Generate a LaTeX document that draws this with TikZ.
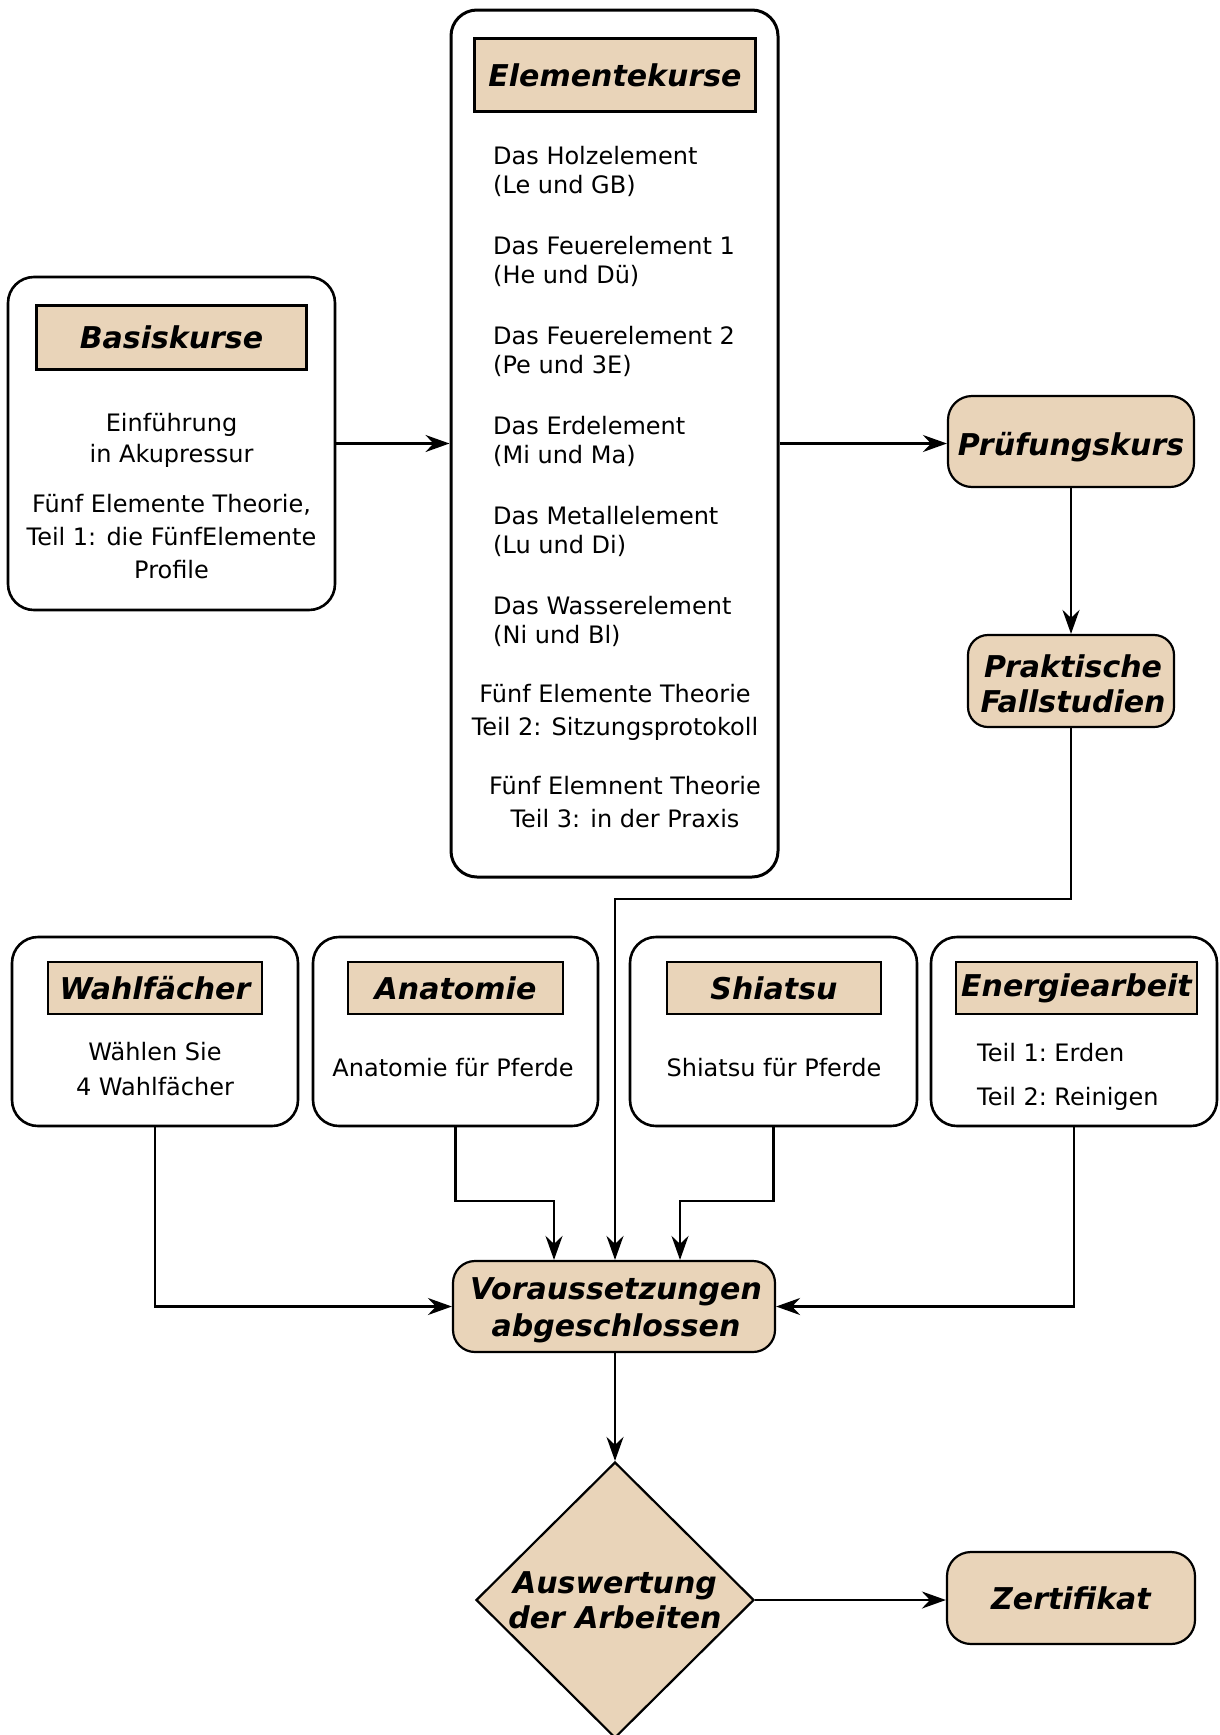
\documentclass[tikz,border=0pt]{standalone}
\usepackage{fontspec}
\setmainfont{DejaVu Sans}
\usetikzlibrary{arrows.meta,shapes.geometric,calc}
\definecolor{tanfill}{RGB}{233,212,185}
\newcommand{\bodyfnt}{\fontsize{24}{29}\selectfont}
\newcommand{\hdrfnt}{\fontsize{30}{35}\selectfont\bfseries\itshape}
\tikzset{
  outerbox/.style={draw, rounded corners=26pt, line width=2.6pt, inner sep=0pt, fill=white},
  hdrbox/.style={draw, fill=tanfill, line width=2.2pt, inner sep=0pt, font=\hdrfnt},
  tanbox/.style={draw, fill=tanfill, rounded corners=24pt, line width=2.2pt, inner sep=0pt, font=\hdrfnt, align=center},
  txt/.style={inner sep=0pt, font=\bodyfnt},
  conn/.style={line width=2.4pt, -{Stealth[length=24pt,width=17pt,inset=8pt]}}
}
\begin{document}
\begin{tikzpicture}[x=1pt,y=-1pt]
\useasboundingbox (0,0) rectangle (1219,1735);
\fill[white] (0,0) rectangle (1219,1735);

% Basiskurse
\node[outerbox, minimum width=327pt, minimum height=333pt] (basis) at (171.5,443.5) {};
\node[hdrbox, minimum width=270pt, minimum height=64pt] (basisH) at (171.5,337.5) {Basiskurse};
\node[txt, align=center, font=\fontsize{24}{31}\selectfont] (basisT1) at (171.5,440) {Einführung\\in Akupressur};
\node[txt, align=center, font=\fontsize{24}{33}\selectfont] (basisT2) at (171.5,537) {Fünf Elemente Theorie,\\Teil 1: die FünfElemente\\Profile};

% Elementekurse
\node[outerbox, line width=3pt, minimum width=327pt, minimum height=867pt] (elem) at (614.5,443.5) {};
\node[hdrbox, minimum width=281pt, minimum height=73pt] (elemH) at (615,75) {Elementekurse};
\node[txt, align=left, anchor=west] (e1) at (493,171) {Das Holzelement\\(Le und GB)};
\node[txt, align=left, anchor=west] (e2) at (493,261) {Das Feuerelement 1\\(He und Dü)};
\node[txt, align=left, anchor=west] (e3) at (493,351) {Das Feuerelement 2\\(Pe und 3E)};
\node[txt, align=left, anchor=west] (e4) at (493,441) {Das Erdelement\\(Mi und Ma)};
\node[txt, align=left, anchor=west] (e5) at (493,531) {Das Metallelement\\(Lu und Di)};
\node[txt, align=left, anchor=west] (e6) at (493,621) {Das Wasserelement\\(Ni und Bl)};
\node[txt, align=center, font=\fontsize{24}{33}\selectfont] (e7) at (615,712) {Fünf Elemente Theorie\\Teil 2: Sitzungsprotokoll};
\node[txt, align=center, font=\fontsize{24}{33}\selectfont] (e8) at (625,802) {Fünf Elemnent Theorie\\Teil 3: in der Praxis};

% Right column
\node[tanbox, minimum width=246pt, minimum height=91pt, text height=27pt, text depth=0pt] (pruef) at (1071,441.5) {Prüfungskurs};
\node[tanbox, rounded corners=20pt, minimum width=206pt, minimum height=92pt] (prak) at (1071,681) {};
\node[inner sep=0pt, font=\hdrfnt, align=center] (prakT) at (1073,684) {Praktische\\Fallstudien};

% Bottom boxes
\node[outerbox, minimum width=286pt, minimum height=189pt] (wahl) at (155,1031.5) {};
\node[outerbox, minimum width=285pt, minimum height=189pt] (anat) at (455.5,1031.5) {};
\node[outerbox, minimum width=287pt, minimum height=189pt] (shia) at (773.5,1031.5) {};
\node[outerbox, minimum width=286pt, minimum height=189pt] (ener) at (1074,1031.5) {};
\node[hdrbox, minimum width=214pt, minimum height=52pt] (wahlH) at (155,988) {Wahlfächer};
\node[hdrbox, minimum width=215pt, minimum height=52pt] (anatH) at (455.5,988) {Anatomie};
\node[hdrbox, minimum width=214pt, minimum height=52pt] (shiaH) at (774,988) {Shiatsu};
\node[hdrbox, minimum width=241pt, minimum height=52pt] (enerH) at (1076.5,988) {Energiearbeit};
\node[txt, align=center, font=\fontsize{24}{35}\selectfont] (wahlT) at (155,1069) {Wählen Sie\\4 Wahlfächer};
\node[txt] (anatT) at (453,1068) {Anatomie für Pferde};
\node[txt] (shiaT) at (774,1068) {Shiatsu für Pferde};
\node[txt, align=left, anchor=west, font=\fontsize{24}{44}\selectfont] (enerT) at (977,1077) {Teil 1:\ Erden\\Teil 2:\ Reinigen};

% Bottom flow
\node[tanbox, rounded corners=22pt, minimum width=322pt, minimum height=91pt] (vor) at (614,1306.5) {};
\node[inner sep=0pt, font=\fontsize{30}{37}\selectfont\bfseries\itshape, align=center] (vorT) at (616,1310) {Voraussetzungen\\abgeschlossen};
\node[diamond, draw, fill=tanfill, line width=2.2pt, inner sep=0pt, minimum width=278pt, minimum height=276pt] (ausw) at (615,1600) {};
\node[inner sep=0pt, font=\hdrfnt, align=center] (auswT) at (615,1600) {Auswertung\\der Arbeiten};
\node[tanbox, minimum width=248pt, minimum height=92pt] (zert) at (1071,1598) {Zertifikat};

% Connectors
\draw[conn] (basis.east) -- (basis.east -| elem.west);
\draw[conn] (elem.east) -- (elem.east -| pruef.west);
\draw[conn] (pruef.south) -- (pruef.south |- prak.north);
\coordinate (jmain) at (615,899);
\draw[conn] (prak.south) -- (prak.south |- jmain) -- (jmain) -- (jmain |- vor.north);
\draw[conn] (wahl.south) |- (vor.west);
\coordinate (ja) at (554,1201);
\draw[conn] (anat.south) |- (ja) -- (ja |- vor.north);
\coordinate (js) at (680,1201);
\draw[conn] (shia.south) |- (js) -- (js |- vor.north);
\draw[conn] (ener.south) |- (vor.east);
\draw[conn] (vor.south -| jmain) -- (ausw.north);
\draw[conn] (ausw.east) -- (ausw.east -| zert.west);
\end{tikzpicture}
\end{document}
